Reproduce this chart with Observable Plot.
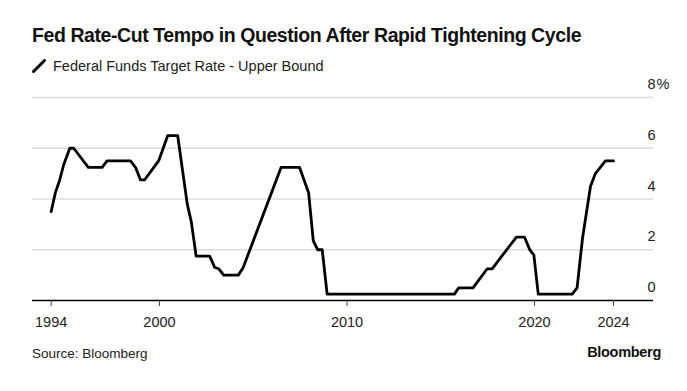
<!DOCTYPE html>
<html>
<head>
<meta charset="utf-8">
<script src="https://cdn.jsdelivr.net/npm/d3@7"></script>
<script src="https://cdn.jsdelivr.net/npm/@observablehq/plot@0.6"></script>
<style>
  html, body { margin: 0; padding: 0; background: #fff; }
  body { width: 687px; height: 391px; position: relative; overflow: hidden; font-family: "Liberation Sans", Arial, sans-serif; color: #111; }
  #title { position: absolute; left: 32px; top: 24px; font-size: 19.5px; font-weight: 700; letter-spacing: -0.42px; white-space: nowrap; z-index: 2; }
  #legend { position: absolute; left: 32px; top: 58px; font-size: 14.5px; white-space: nowrap; display: flex; align-items: center; color: #222; z-index: 2; }
  #legend svg { margin-right: 7px; }
  #chart { position: absolute; left: 0; top: 60px; z-index: 1; }
  #source { position: absolute; left: 32px; top: 346px; font-size: 13.5px; color: #222; }
  #logo { position: absolute; right: 26px; top: 344px; font-size: 14.5px; font-weight: 700; letter-spacing: -0.3px; color: #111; }
</style>
</head>
<body>
<div id="chart"></div>
<div id="title">Fed Rate-Cut Tempo in Question After Rapid Tightening Cycle</div>
<div id="legend"><svg width="14" height="14"><line x1="1.5" y1="12.5" x2="12.5" y2="1.5" stroke="#000" stroke-width="3" stroke-linecap="round"/></svg><span>Federal Funds Target Rate - Upper Bound</span></div>
<div id="source">Source: Bloomberg</div>
<div id="logo">Bloomberg</div>
<script>
const dates = ["1994-03-22","1994-06-13","1994-09-05","1994-11-22","1995-03-20","1995-06-05","1996-03-15","1996-12-10","1997-03-15","1998-06-15","1998-09-20","1998-12-28","1999-03-15","1999-12-15","2000-06-10","2000-12-20","2001-06-25","2001-09-12","2001-12-15","2002-09-05","2002-12-12","2003-03-01","2003-06-05","2004-03-15","2004-06-15","2006-06-28","2007-06-20","2007-12-15","2008-03-15","2008-06-10","2008-09-05","2008-12-10","2015-09-25","2015-12-18","2016-09-20","2017-06-25","2017-09-28","2019-01-15","2019-06-20","2019-10-01","2019-12-20","2020-03-15","2022-01-05","2022-04-10","2022-07-25","2022-12-28","2023-04-01","2023-10-15","2024-03-20"];
const rates = [3.5,4.25,4.75,5.35,6.0,6.0,5.25,5.25,5.5,5.5,5.25,4.75,4.75,5.5,6.5,6.5,3.8,3.1,1.75,1.75,1.3,1.25,1.0,1.0,1.28,5.25,5.25,4.25,2.35,2.0,2.0,0.25,0.25,0.5,0.5,1.25,1.25,2.5,2.5,2.0,1.8,0.25,0.25,0.5,2.45,4.5,5.0,5.5,5.5];
const xTickDates = ["1994-03-22","2000-01-01","2010-01-01","2020-01-01","2024-03-20"];
const xTickLabels = ["1994","2000","2010","2020","2024"];
const yTicks = [0,2,4,6,8];
const yTickLabels = ["0","2","4","6","8"];
const yUnit = "%";

const data = dates.map((d, i) => ({date: new Date(d), rate: rates[i]}));
const xTicks = xTickDates.map(d => new Date(d));

const chart = Plot.plot({
  width: 687,
  height: 280,
  marginTop: 37,
  marginBottom: 40,
  marginLeft: 32,
  marginRight: 34,
  x: {type: "utc", domain: [new Date("1993-03-24"), new Date("2026-05-08")]},
  y: {domain: [0, 8]},
  style: {fontFamily: "'Liberation Sans', Arial, sans-serif", fontSize: "14.5px", color: "#222", background: "transparent"},
  marks: [
    Plot.ruleY(yTicks.filter(d => d > 0), {stroke: "#dcdcdc", strokeWidth: 1.5}),
    Plot.axisY(yTicks, {anchor: "right", tickSize: 0, tickPadding: 0, textAnchor: "end", dx: 2, dy: -13, label: null,
      tickFormat: d => yTickLabels[yTicks.indexOf(d)]}),
    Plot.text([yTicks[yTicks.length - 1]], {y: d => d, text: () => yUnit, frameAnchor: "right", textAnchor: "start", dx: 3, dy: -13, fill: "#222"}),
    Plot.ruleY([0], {stroke: "#000", strokeWidth: 1.5}),
    Plot.line(data, {x: "date", y: "rate", stroke: "#000", strokeWidth: 2.8, strokeLinejoin: "round"}),
    Plot.axisX(xTicks, {anchor: "bottom", tickSize: 6, tickPadding: 10, label: null, stroke: "#444",
      tickFormat: d => xTickLabels[xTicks.findIndex(t => +t === +d)]})
  ]
});
document.getElementById("chart").appendChild(chart);
</script>
</body>
</html>
